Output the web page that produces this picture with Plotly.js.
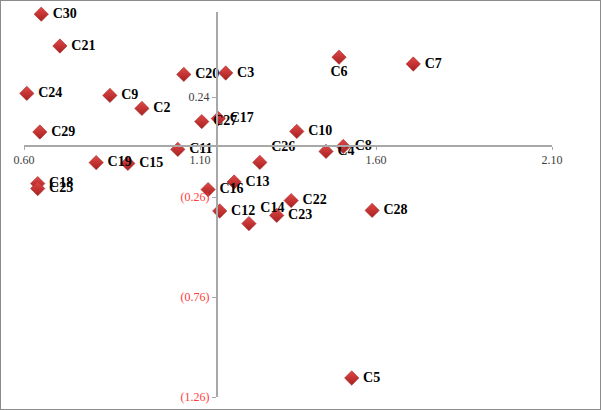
<!DOCTYPE html>
<html>
<head>
<meta charset="utf-8">
<script src="https://cdn.plot.ly/plotly-3.0.1.min.js"></script>
<style>
  html, body { margin: 0; padding: 0; background: #ffffff; }
  #wrap { position: relative; width: 601px; height: 410px; }
  #chart { position: absolute; left: 0; top: 0; width: 601px; height: 410px; }
  #frame { position: absolute; left: 0; top: 0; width: 599px; height: 408px; border: 1px solid #8c8c8c; pointer-events: none; }
</style>
</head>
<body>
<div id="wrap"><div id="chart"></div><div id="frame"></div></div>
<script>
// Category labels
const labels = ['C1','C2','C3','C4','C5','C6','C7','C8','C9','C10',
                'C11','C12','C13','C14','C15','C16','C17','C18','C19','C20',
                'C21','C22','C23','C24','C25','C26','C27','C28','C29','C30'];
// X values
const xValues = [2.163, 0.935, 1.173, 1.458, 1.531, 1.495, 1.706, 1.507, 0.844, 1.375,
                 1.037, 1.156, 1.197, 1.239, 0.895, 1.123, 1.152, 0.639, 0.805, 1.054,
                 0.702, 1.359, 1.318, 0.608, 0.639, 1.270, 1.105, 1.589, 0.645, 0.649];
// Y values
const yValues = [0.057, 0.183, 0.360, -0.032, -1.165, 0.439, 0.405, -0.007, 0.248, 0.068,
                 -0.022, -0.330, -0.185, -0.393, -0.092, -0.223, 0.132, -0.193, -0.088, 0.353,
                 0.495, -0.278, -0.352, 0.258, -0.218, -0.087, 0.117, -0.327, 0.065, 0.654];
// Tick values and labels
const xTickVals = [0.60, 1.10, 1.60, 2.10];
const xTickText = ['0.60', '1.10', '1.60', '2.10'];
const yTickVals = [-1.26, -0.76, -0.26, 0.24];
const yTickText = ['(1.26)', '(0.76)', '(0.26)', '0.24'];

const labelPos = labels.map(function (l) {
  if (l === 'C1' || l === 'C6') return 'bottom center';
  if (l === 'C14' || l === 'C26') return 'top right';
  return 'middle right';
});
const labelText = labels.map(function (l, i) {
  return labelPos[i] === 'bottom center' ? l : '\u00a0' + l;
});

const yTickTextStyled = yTickText.map(function (t, i) {
  return yTickVals[i] < 0 ? '<span style="color:#ff3b3b">' + t + '</span>' : t;
});

const trace = {
  type: 'scatter',
  mode: 'markers+text',
  x: xValues,
  y: yValues,
  text: labelText,
  textposition: labelPos,
  textfont: { family: 'Liberation Serif', size: 14, color: '#000000', weight: 'bold' },
  cliponaxis: false,
  marker: {
    symbol: 'diamond',
    size: 11,
    color: '#e04848',
    gradient: { type: 'vertical', color: '#a82020' },
    line: { color: '#a52a2a', width: 0.6 }
  },
  hoverinfo: 'skip',
  showlegend: false
};

const crossX = 1.1455;
const xRange = [0.60, 2.10];
const yRange = [-1.26, 0.665];

const layout = {
  width: 601,
  height: 410,
  margin: { l: 24, r: 49, t: 12, b: 13 },
  paper_bgcolor: '#ffffff',
  plot_bgcolor: 'rgba(0,0,0,0)',
  showlegend: false,
  font: { family: 'Liberation Serif', size: 12, color: '#404040' },
  xaxis: {
    range: xRange,
    anchor: 'free',
    position: (0 - yRange[0]) / (yRange[1] - yRange[0]),
    showgrid: false,
    zeroline: false,
    showline: true,
    linecolor: '#a8a8a8',
    linewidth: 1.5,
    ticks: 'outside',
    ticklen: 3,
    tickcolor: '#a8a8a8',
    tickvals: xTickVals,
    ticktext: xTickText,
    tickfont: { family: 'Liberation Serif', size: 12, color: '#404040' }
  },
  yaxis: {
    range: yRange,
    anchor: 'free',
    position: (crossX - xRange[0]) / (xRange[1] - xRange[0]),
    showgrid: false,
    zeroline: false,
    showline: true,
    linecolor: '#a8a8a8',
    linewidth: 1.5,
    ticks: 'outside',
    ticklen: 4,
    tickcolor: '#a8a8a8',
    tickvals: yTickVals,
    ticktext: yTickTextStyled,
    tickfont: { family: 'Liberation Serif', size: 12, color: '#404040' }
  }
};

Plotly.newPlot('chart', [trace], layout, { displayModeBar: false, staticPlot: true });
</script>
</body>
</html>
